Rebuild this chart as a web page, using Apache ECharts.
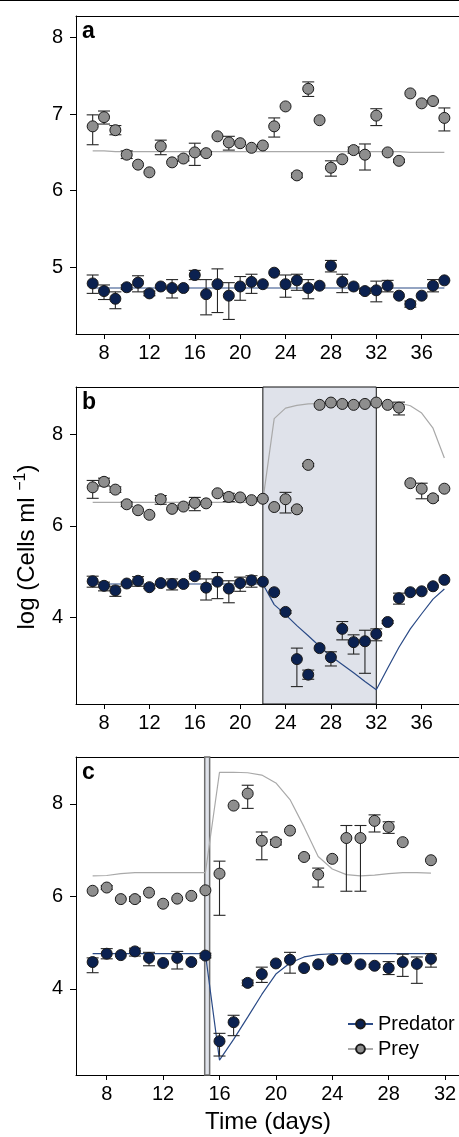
<!DOCTYPE html>
<html>
<head>
<meta charset="utf-8">
<script src="https://cdn.jsdelivr.net/npm/echarts@6/dist/echarts.min.js"></script>
<style>
html,body{margin:0;padding:0;background:#fff;}
#chart{width:459px;height:1137px;}
</style>
</head>
<body>
<div id="chart"></div>
<script>
// ---------------- data ----------------
const daysAB = [7,8,9,10,11,12,13,14,15,16,17,18,19,20,21,22,23,24,25,26,27,28,29,30,31,32,33,34,35,36,37,38];
const daysC = [7,8,9,10,11,12,13,14,15,16,17,18,19,20,21,22,23,24,25,26,27,28,29,30,31];

const ticksXAB = [8,12,16,20,24,28,32,36];
const ticksXC = [8,12,16,20,24,28,32];
const ticksYA = [5,6,7,8];
const ticksYBC = [4,6,8];

// panel a
const preyA = [6.84,6.96,6.79,6.47,6.34,6.24,6.58,6.37,6.42,6.50,6.49,6.71,6.63,6.62,6.56,6.59,6.84,7.10,6.20,7.33,6.92,6.30,6.41,6.53,6.47,6.98,6.50,6.39,7.27,7.14,7.17,6.95];
const preyAUp = [.15,.08,.06,.05,0,0,.08,0,.03,.12,.02,0,.08,0,0,0,.11,0,.03,.09,0,.09,0,.04,.14,.09,0,.02,0,0,0,.13];
const preyADn = [.24,.09,.06,.05,0,0,.11,0,.03,.17,.02,0,.10,0,0,0,.14,0,.03,.10,0,.11,0,.04,.20,.13,0,.02,0,0,0,.17];
const predA = [4.79,4.69,4.59,4.74,4.80,4.66,4.75,4.73,4.73,4.90,4.65,4.78,4.63,4.75,4.81,4.78,4.93,4.78,4.83,4.73,4.76,5.02,4.81,4.75,4.69,4.70,4.76,4.63,4.52,4.63,4.76,4.83];
const predAUp = [.11,.08,.09,.03,.09,.03,0,.11,0,.06,.19,.20,.17,.13,.10,0,0,.12,.08,.11,0,.07,.10,0,.03,.12,.07,0,.04,0,.08,0];
const predADn = [.13,.11,.13,.03,.12,.03,0,.13,0,.06,.27,.37,.31,.18,.15,0,0,.17,.13,.14,0,.08,.14,0,.03,.15,.08,0,.04,0,.08,0];
const modelPreyA = [6.52,6.52,6.51,6.51,6.51,6.51,6.51,6.51,6.51,6.51,6.51,6.51,6.51,6.51,6.51,6.51,6.51,6.51,6.51,6.51,6.51,6.51,6.51,6.51,6.51,6.51,6.51,6.51,6.50,6.50,6.50,6.50];
const modelPredA = [4.73,4.73,4.73,4.73,4.73,4.73,4.73,4.73,4.73,4.73,4.73,4.73,4.73,4.73,4.73,4.73,4.73,4.73,4.73,4.73,4.73,4.73,4.73,4.73,4.73,4.73,4.73,4.73,4.73,4.73,4.73,4.73];

// panel b
const preyB = [6.84,6.96,6.79,6.47,6.34,6.24,6.58,6.37,6.42,6.50,6.49,6.71,6.63,6.62,6.56,6.59,6.41,6.58,6.36,7.33,8.64,8.69,8.66,8.64,8.66,8.69,8.64,8.58,6.93,6.81,6.60,6.81];
const preyBUp = [.15,.08,.06,.05,0,0,.08,0,.03,.12,.02,0,.08,0,0,0,0,.15,.03,.03,0,0,0,0,0,0,0,.12,0,.12,.05,0];
const preyBDn = [.24,.09,.06,.05,0,0,.11,0,.03,.17,.02,0,.10,0,0,0,0,.30,.03,.03,0,0,0,0,0,0,0,.16,0,.22,.05,0];
const predB = [4.79,4.69,4.59,4.74,4.80,4.66,4.75,4.73,4.73,4.90,4.65,4.78,4.63,4.75,4.81,4.78,4.55,4.12,3.09,2.75,3.33,3.13,3.75,3.46,3.48,3.64,3.90,4.42,4.55,4.57,4.68,4.82];
const predBUp = [.11,.08,.09,.03,.09,.03,0,.11,0,.06,.19,.20,.17,.13,.10,0,0,.03,.24,.10,0,.12,.16,.16,.24,.11,.03,.11,0,0,0,0];
const predBDn = [.13,.11,.13,.03,.12,.03,0,.13,0,.06,.27,.37,.31,.18,.15,0,0,.03,.60,.10,0,.19,.24,.26,.70,.15,.03,.13,0,0,0,0];
const modelPreyB = [6.51,6.51,6.51,6.51,6.51,6.51,6.51,6.51,6.51,6.51,6.51,6.51,6.51,6.51,6.51,6.55,8.34,8.57,8.63,8.66,8.67,8.68,8.68,8.68,8.68,8.68,8.68,8.68,8.62,8.46,8.13,7.48];
const modelPredB = [4.73,4.73,4.73,4.73,4.73,4.73,4.73,4.73,4.73,4.73,4.73,4.73,4.73,4.73,4.73,4.73,4.28,4.06,3.82,3.60,3.37,3.15,2.97,2.79,2.60,2.42,2.89,3.35,3.75,4.08,4.40,4.62];
const bandB = [22, 32];

// panel c
const preyC = [6.12,6.19,5.94,5.94,6.08,5.84,5.95,6.01,6.13,6.49,7.96,8.22,7.20,7.17,7.42,6.85,6.47,6.81,7.26,7.26,7.63,7.50,7.17,null,6.78];
const preyCUp = [0,.04,0,.05,0,0,0,0,0,.27,0,.18,.19,.06,0,.03,.14,0,.27,.27,.13,.11,0,0,0];
const preyCDn = [0,.04,0,.05,0,0,0,0,0,.90,0,.32,.41,.06,0,.03,.27,0,1.15,1.15,.24,.14,0,0,0];
const predC = [4.58,4.76,4.73,4.81,4.67,4.56,4.67,4.58,4.72,2.87,3.28,4.13,4.32,4.55,4.63,4.45,4.53,4.63,4.65,4.53,4.50,4.45,4.58,4.54,4.65];
const predCUp = [.09,.11,0,.07,.12,0,.14,0,.05,.17,.15,.06,.15,0,.16,0,0,0,0,0,.03,.14,.17,.15,.11];
const predCDn = [.23,.11,0,.10,.17,0,.24,0,.05,.32,.29,.06,.18,0,.29,0,0,0,0,0,.03,.14,.31,.42,.18];
const modelPreyC = [6.44,6.45,6.49,6.51,6.51,6.51,6.51,6.51,6.51,8.68,8.68,8.67,8.62,8.45,8.09,7.50,6.86,6.59,6.47,6.44,6.46,6.49,6.51,6.51,6.50];
const modelPredC = [4.76,4.76,4.76,4.76,4.76,4.76,4.76,4.76,4.76,2.46,2.91,3.39,3.88,4.32,4.56,4.69,4.74,4.76,4.76,4.76,4.76,4.76,4.76,4.76,4.76];
const bandC = [14.95, 15.3];

const panelLabels = ['a','b','c'];
const seriesNames = ['Predator','Prey'];

// ---------------- style ----------------
const FONT = 'Liberation Sans, Arial, Helvetica, sans-serif';
const NAVY = '#0b2150';
const NAVY_LINE = '#2a4a86';
const GRAY = '#8e8e8e';
const GRAY_LINE = '#a9a9a9';
const OUTLINE = '#1a1a1a';
const BAND = '#dfe2ea';

const grids = [
  {left:76, top:16, right:0, height:318},
  {left:76, top:387, right:0, height:317},
  {left:76, top:757, right:0, height:318}
].map(g => Object.assign(g, {containLabel:false, outerBoundsMode:'none'}));

const xRanges = [[5.53,39.29],[5.53,39.29],[5.82,32.99]];
const yRanges = [[4.13,8.28],[2.11,9.03],[2.14,9.01]];
const xTicks = [ticksXAB, ticksXAB, ticksXC];
const yTicks = [ticksYA, ticksYBC, ticksYBC];

const xAxes = [], yAxes = [];
for (let i = 0; i < 3; i++) {
  xAxes.push({
    type:'value', gridIndex:i, min:xRanges[i][0], max:xRanges[i][1], position:'bottom',
    splitLine:{show:false},
    axisLine:{show:true, lineStyle:{color:'#000', width:1}},
    axisTick:{show:true, customValues:xTicks[i], length:5, lineStyle:{color:'#000'}},
    axisLabel:{show:true, customValues:xTicks[i], margin:9, color:'#000', fontSize:20, fontFamily:FONT}
  });
  xAxes.push({
    type:'value', gridIndex:i, min:xRanges[i][0], max:xRanges[i][1], position:'top',
    splitLine:{show:false},
    axisLine:{show:true, onZero:false, lineStyle:{color:'#000', width:1}},
    axisTick:{show:false}, axisLabel:{show:false}
  });
  yAxes.push({
    type:'value', gridIndex:i, min:yRanges[i][0], max:yRanges[i][1],
    splitLine:{show:false},
    axisLine:{show:true, onZero:false, lineStyle:{color:'#000', width:1}},
    axisTick:{show:true, customValues:yTicks[i], length:6, lineStyle:{color:'#000'}},
    axisLabel:{show:true, customValues:yTicks[i], margin:13, color:'#000', fontSize:20, fontFamily:FONT}
  });
}

function pts(days, vals) {
  const out = [];
  days.forEach((d, i) => { if (vals[i] != null) out.push([d, vals[i]]); });
  return out;
}
function bars(days, vals, up, dn) {
  const out = [];
  days.forEach((d, i) => {
    if (vals[i] != null && (up[i] > 0 || dn[i] > 0)) out.push([d, vals[i] - dn[i], vals[i] + up[i]]);
  });
  return out;
}
function errRender(params, api) {
  const x = api.value(0), lo = api.value(1), hi = api.value(2);
  const p1 = api.coord([x, hi]), p2 = api.coord([x, lo]);
  const w = 6;
  const style = {stroke:'#262626', lineWidth:1.1};
  return {type:'group', children:[
    {type:'line', shape:{x1:p1[0], y1:p1[1], x2:p2[0], y2:p2[1]}, style:style},
    {type:'line', shape:{x1:p1[0]-w, y1:p1[1], x2:p1[0]+w, y2:p1[1]}, style:style},
    {type:'line', shape:{x1:p2[0]-w, y1:p2[1], x2:p2[0]+w, y2:p2[1]}, style:style}
  ]};
}

const series = [];
function addPanel(i, days, prey, preyUp, preyDn, pred, predUp, predDn, mPrey, mPred, band, bandBorder, bandBorderW) {
  const xi = i * 2;
  const modelPrey = {
    type:'line', name:'modelPrey'+i, xAxisIndex:xi, yAxisIndex:i, data:pts(days, mPrey),
    showSymbol:false, symbol:'none', silent:true, z:2,
    lineStyle:{color:GRAY_LINE, width:1.2}
  };
  if (band) {
    modelPrey.markArea = {
      silent:true,
      itemStyle:{color:BAND, borderColor:bandBorder, borderWidth:bandBorderW},
      data:[[{xAxis:band[0]}, {xAxis:band[1]}]]
    };
  }
  series.push(modelPrey);
  series.push({
    type:'line', name:'modelPred'+i, xAxisIndex:xi, yAxisIndex:i, data:pts(days, mPred),
    showSymbol:false, symbol:'none', silent:true, z:2,
    lineStyle:{color:NAVY_LINE, width:1.2}
  });
  series.push({
    type:'custom', name:'errPrey'+i, xAxisIndex:xi, yAxisIndex:i, renderItem:errRender,
    data:bars(days, prey, preyUp, preyDn), encode:{x:0, y:[1,2]}, silent:true, z:3
  });
  series.push({
    type:'custom', name:'errPred'+i, xAxisIndex:xi, yAxisIndex:i, renderItem:errRender,
    data:bars(days, pred, predUp, predDn), encode:{x:0, y:[1,2]}, silent:true, z:3
  });
  series.push({
    type:'scatter', name:'ptsPrey'+i, xAxisIndex:xi, yAxisIndex:i, data:pts(days, prey),
    symbol:'circle', symbolSize:11, silent:true, z:4,
    itemStyle:{color:GRAY, borderColor:OUTLINE, borderWidth:1, opacity:1}
  });
  series.push({
    type:'scatter', name:'ptsPred'+i, xAxisIndex:xi, yAxisIndex:i, data:pts(days, pred),
    symbol:'circle', symbolSize:11, silent:true, z:4,
    itemStyle:{color:NAVY, borderColor:OUTLINE, borderWidth:1, opacity:1}
  });
}
addPanel(0, daysAB, preyA, preyAUp, preyADn, predA, predAUp, predADn, modelPreyA, modelPredA, null);
addPanel(1, daysAB, preyB, preyBUp, preyBDn, predB, predBUp, predBDn, modelPreyB, modelPredB, bandB, '#111', 1);
addPanel(2, daysC, preyC, preyCUp, preyCDn, predC, predCUp, predCDn, modelPreyC, modelPredC, bandC, '#6e6e6e', 1.5);

// legend-only series
series.push({
  type:'line', name:seriesNames[0], xAxisIndex:4, yAxisIndex:2, data:[],
  symbol:'circle', symbolSize:10,
  itemStyle:{color:NAVY, borderColor:OUTLINE, borderWidth:1},
  lineStyle:{color:NAVY_LINE, width:1.2}
});
series.push({
  type:'line', name:seriesNames[1], xAxisIndex:4, yAxisIndex:2, data:[],
  symbol:'circle', symbolSize:10,
  itemStyle:{color:GRAY, borderColor:OUTLINE, borderWidth:1},
  lineStyle:{color:GRAY_LINE, width:1.2}
});

const labelTops = [20, 391, 761];
const graphic = panelLabels.map((t, i) => ({
  type:'text', left:82, top:labelTops[i], z:10,
  style:{text:t, fill:'#000', font:'bold 23px ' + FONT}
}));
graphic.push({
  type:'text', x:27, y:547, rotation:Math.PI/2, z:10,
  style:{
    text:'{m|log (Cells ml }{s|\u22121}{m|)}',
    align:'center', verticalAlign:'middle',
    rich:{
      m:{fontSize:24, fontFamily:FONT, fill:'#000', lineHeight:28},
      s:{fontSize:16, fontFamily:FONT, fill:'#000', lineHeight:16, verticalAlign:'top'}
    }
  }
});
graphic.push({
  type:'text', x:268, y:1122, z:10,
  style:{text:'Time (days)', align:'center', verticalAlign:'middle', fill:'#000', fontSize:24, fontFamily:FONT}
});
graphic.push({
  type:'line', z:10, shape:{x1:0, y1:0.5, x2:459, y2:0.5}, style:{stroke:'#000', lineWidth:1}
});

const chart = echarts.init(document.getElementById('chart'), null, {renderer:'canvas'});
chart.setOption({
  animation:false,
  backgroundColor:'#fff',
  grid:grids,
  xAxis:xAxes,
  yAxis:yAxes,
  legend:{
    data:seriesNames, orient:'vertical', left:347, top:1014, padding:0,
    itemWidth:25, itemHeight:11, itemGap:5,
    textStyle:{fontSize:20, fontFamily:FONT, color:'#000'},
    selectedMode:false
  },
  graphic:graphic,
  series:series
});
</script>
</body>
</html>
